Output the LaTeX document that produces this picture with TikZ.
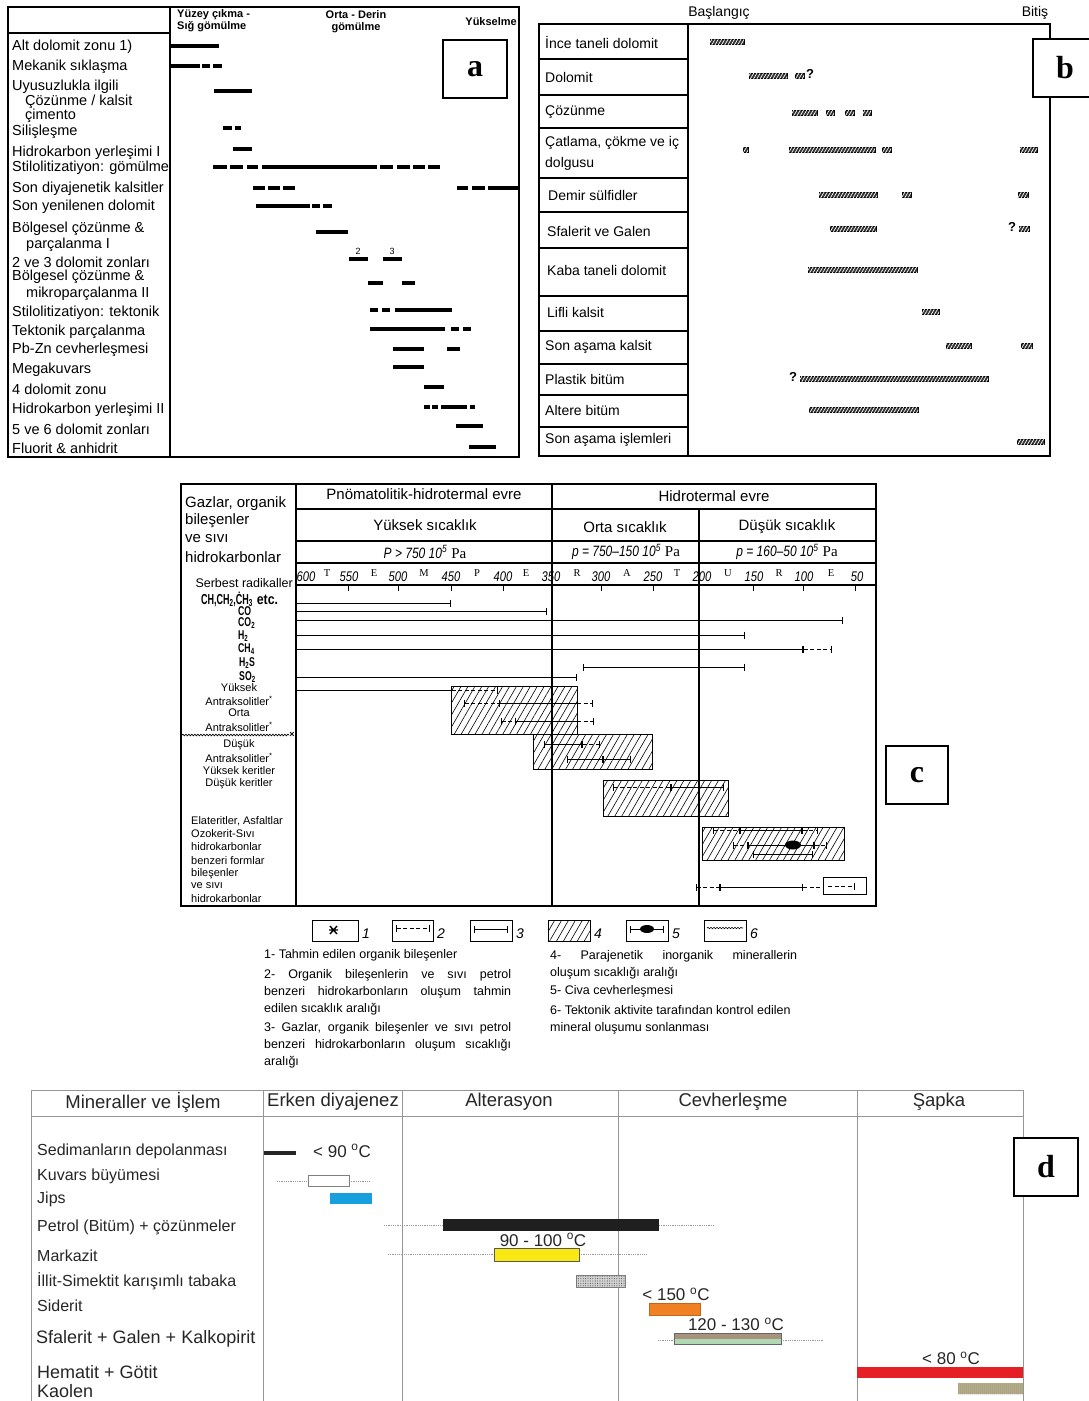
\documentclass[tikz,border=0pt]{standalone}
\usepackage{fontspec}
\setmainfont{Liberation Sans}
\newfontfamily\timesfont{Liberation Serif}
\usetikzlibrary{arrows.meta,patterns.meta,decorations.pathmorphing}

\definecolor{jipsblue}{RGB}{24,160,222}
\definecolor{markyellow}{RGB}{250,232,20}
\definecolor{siderorange}{RGB}{240,128,36}
\definecolor{sfaltop}{RGB}{168,148,126}
\definecolor{sfalbot}{RGB}{176,216,178}
\definecolor{hemred}{RGB}{230,30,38}
\definecolor{kaolkhaki}{RGB}{186,178,138}
\definecolor{framegray}{RGB}{150,150,150}

\newcommand{\jline}[1]{\makebox[247pt][s]{#1}}
\newcommand{\cond}[1]{\scalebox{0.6}[0.88]{#1}}
\newcommand{\narrow}[1]{\scalebox{0.8}[1]{#1}}

\tikzset{
  frame/.style={draw=black, line width=1.2pt},
  letterbox/.style={draw=black, line width=1.6pt, fill=white, inner sep=0pt,
    minimum width=62pt, minimum height=58pt,
    font=\timesfont\bfseries\fontsize{32}{32}\selectfont},
  ahead/.style={inner sep=0pt, font=\bfseries\fontsize{11}{11}\selectfont},
  alabel/.style={anchor=west, inner sep=0pt, font=\fontsize{14.5}{15}\selectfont},
  abar/.style={line width=3.6pt},
  blabel/.style={anchor=west, inner sep=0pt, font=\fontsize{14}{15}\selectfont},
  bbar/.style={draw=black, line width=0.5pt, fill=black!80,
    postaction={pattern={Lines[angle=60,distance=2.8pt,line width=0.7pt]}, pattern color=white}},
  bq/.style={inner sep=0pt, font=\bfseries\fontsize{13}{13}\selectfont},
  chead/.style={inner sep=0pt, font=\fontsize{15}{15}\selectfont},
  clab/.style={inner sep=0pt, font=\fontsize{11}{11}\selectfont},
  chem/.style={anchor=west, inner sep=0pt, font=\bfseries\fontsize{14.5}{14.5}\selectfont},
  tnum/.style={inner sep=0pt, font=\itshape\fontsize{14}{14}\selectfont},
  tlet/.style={inner sep=0pt, font=\timesfont\fontsize{10.5}{10.5}\selectfont},
  rng/.style={line width=1pt, {Bar[width=7pt,line width=1pt]}-{Bar[width=7pt,line width=1pt]}},
  rngd/.style={rng, dash pattern=on 4pt off 2.5pt},
  rngo/.style={line width=1pt, -{Bar[width=7pt,line width=1pt]}},
  hatch/.style={draw=black, line width=0.8pt, pattern={Lines[angle=60,distance=6pt,line width=0.6pt]}},
  legtext/.style={anchor=north west, inner sep=0pt, align=left, font=\fontsize{12.5}{17}\selectfont},
  legnum/.style={anchor=west, inner sep=0pt, font=\itshape\fontsize{14}{14}\selectfont},
  dframe/.style={draw=framegray, line width=0.9pt},
  dhead/.style={inner sep=0pt, font=\fontsize{18.5}{19}\selectfont, text=black!85},
  dlabel/.style={anchor=west, inner sep=0pt, font=\fontsize{16}{17}\selectfont, text=black!85},
  dlabelb/.style={dlabel, font=\fontsize{18}{19}\selectfont},
  dtemp/.style={inner sep=0pt, font=\fontsize{17}{17}\selectfont, text=black!85},
  dtrail/.style={draw=gray!80, line width=0.7pt, dash pattern=on 1pt off 0.8pt},
}

\begin{document}
\begin{tikzpicture}[x=1pt,y=-1pt]
\useasboundingbox (0,0) rectangle (1089,1401);
\fill[white] (0,0) rectangle (1089,1401);

%% ---------------- a ----------------
\draw[frame] (8,7) rectangle (519,457);
\draw[frame] (170,7) -- (170,457);
\draw[frame] (8,33) -- (170,33);
\node[ahead, anchor=west] (ayuzey) at (177,15) {Yüzey çıkma -};
\node[ahead, anchor=west] (asig) at (177,27) {Sığ gömülme};
\node[ahead] (aorta) at (356,15) {Orta - Derin};
\node[ahead] (agom) at (356,28) {gömülme};
\node[ahead, anchor=east] (ayuk) at (517,22) {Yükselme};

\foreach \x/\y/\t [count=\i] in {12/47/Alt dolomit zonu 1), 12/67/Mekanik sıklaşma,
    12/87/Uyusuzlukla ilgili, 25/102/{Çözünme / kalsit}, 25/116/çimento,
    12/132/Silişleşme, 12/153/Hidrokarbon yerleşimi I, 12/168/Stilolitizatiyon: gömülme,
    12/189/Son diyajenetik kalsitler, 12/207/Son yenilenen dolomit,
    12/229/Bölgesel çözünme \&, 26/245/parçalanma I, 12/262/2 ve 3 dolomit zonları,
    12/277/Bölgesel çözünme \&, 26/294/mikroparçalanma II,
    12/313/Stilolitizatiyon: tektonik, 12/332/Tektonik parçalanma,
    12/350/Pb-Zn cevherleşmesi, 12/370/Megakuvars, 12/389/4 dolomit zonu,
    12/410/Hidrokarbon yerleşimi II, 12/429/5 ve 6 dolomit zonları,
    12/448/Fluorit \& anhidrit}
  \node[alabel] (arow\i) at (\x,\y) {\t};

\foreach \a/\b/\y in {171/219/46, 171/200/66, 202/210/66, 213/222/66, 214/252/91,
    223/232/128, 235/241/128, 233/252/149,
    213/227/167, 230/243/167, 247/258/167, 262/377/167, 380/393/167, 397/410/167, 413/425/167, 428/440/167,
    253/265/188, 268/280/188, 283/295/188, 457/468/188, 472/485/188, 488/518/188,
    256/310/206, 312/320/206, 323/332/206, 316/348/232, 349/368/259, 383/402/259,
    368/383/283, 402/415/283, 370/378/310, 382/390/310, 395/452/310,
    370/445/329, 451/459/329, 463/471/329, 393/424/349, 447/460/349, 393/424/367,
    424/444/387, 424/430/407, 432/438/407, 441/467/407, 470/475/407,
    456/483/426, 469/496/447}
  \draw[abar] (\a,\y) -- (\b,\y);
\node[font=\fontsize{9}{9}\selectfont, inner sep=0pt] (azon2) at (358,251) {2};
\node[font=\fontsize{9}{9}\selectfont, inner sep=0pt] (azon3) at (392,251) {3};
\node[letterbox, minimum width=64pt] (aletter) at (475,69) {a};

%% ---------------- b ----------------
\node[blabel, anchor=center] (bbas) at (719,13) {Başlangıç};
\node[blabel, anchor=center] (bbit) at (1035,13) {Bitiş};
\draw[frame] (539,24) rectangle (1050,456);
\draw[frame] (688,24) -- (688,456);
\foreach \y in {59,95,128,178,212,248,296,331,364,395,427}
  \draw[frame] (539,\y) -- (688,\y);
\foreach \x/\y/\t [count=\i] in {545/42/İnce taneli dolomit, 545/77/Dolomit, 545/112/Çözünme,
    545/143/{Çatlama, çökme ve iç}, 545/164/dolgusu, 548/195/Demir sülfidler,
    547/231/Sfalerit ve Galen, 547/270/Kaba taneli dolomit, 547/312/Lifli kalsit,
    545/347/Son aşama kalsit, 545/379/Plastik bitüm, 545/410/Altere bitüm,
    545/440/Son aşama işlemleri}
  \node[blabel] (brow\i) at (\x,\y) {\t};
\foreach \a/\b/\y in {710/744/42, 749/787/76, 795/804/76,
    792/817/113, 826/834/113, 845/854/113, 863/871/113,
    743/748/150, 789/875/150, 882/891/150, 1020/1037/150,
    819/877/195, 902/911/195, 1018/1028/195, 830/876/229, 1019/1029/229,
    808/917/270, 922/939/312, 946/971/346, 1021/1032/346,
    800/988/379, 809/918/410, 1017/1044/442}
  \draw[bbar] (\a,\y-2.6) rectangle (\b,\y+2.6);
\node[bq] (bq1) at (810,74) {?};
\node[bq] (bq2) at (1012,227) {?};
\node[bq] (bq3) at (793,377) {?};
\node[letterbox, minimum width=64pt] (bletter) at (1065,68) {b};

%% ---------------- c ----------------
% hatched fields first
\draw[hatch] (451,686) rectangle (577,734);
\draw[hatch] (533,734) rectangle (652,769);
\draw[hatch] (603,780) rectangle (728,816);
\draw[hatch] (702,827) rectangle (844,860);

\draw[frame] (181,484) rectangle (876,906);
\draw[frame] (296,484) -- (296,906);
\draw[frame] (552,484) -- (552,906);
\draw[frame] (699,509) -- (699,906);
\foreach \y in {509,541,563,585}
  \draw[frame] (296,\y) -- (876,\y);
\foreach \x in {348,398,451,503,601,653,753,803,855}
  \draw[line width=1pt] (\x,585) -- (\x,591);

\node[chead] (cpno) at (424,494) {Pnömatolitik-hidrotermal evre};
\node[chead] (chid) at (714,496) {Hidrotermal evre};
\node[chead] (cyuk) at (425,525) {Yüksek sıcaklık};
\node[chead] (corta) at (625,527) {Orta sıcaklık};
\node[chead] (cdus) at (787,527) {Düşük sıcaklık};
\node[chead] (cp1) at (425,552) {\narrow{\itshape P > 750 10\textsuperscript{5}} {\timesfont Pa}};
\node[chead] (cp2) at (626,552) {\narrow{\itshape p = 750–150 10\textsuperscript{5}} {\timesfont Pa}};
\node[chead] (cp3) at (787,552) {\narrow{\itshape p = 160–50 10\textsuperscript{5}} {\timesfont Pa}};
\foreach \x/\t in {306/600,349/550,398/500,451/450,503/400,551/350,601/300,653/250,702/200,754/150,804/100,857/50}
  \node[tnum] (ct\t) at (\x,577) {\narrow{\t}};
\foreach \x/\t [count=\i] in {327/T,374/E,424/M,477/P,526/E,577/R,627/A,677/T,728/U,779/R,831/E}
  \node[tlet] (cl\i) at (\x,573) {\t};

\foreach \y/\t [count=\i] in {504/{Gazlar, organik}, 521/bileşenler, 539/ve sıvı, 557/hidrokarbonlar}
  \node[chead, anchor=west] (cgaz\i) at (185,\y) {\t};
\node[clab, anchor=east, font=\fontsize{12.5}{12.5}\selectfont] (cserb) at (293,583) {Serbest radikaller};
\node[chem] (cch) at (201,599) {\scalebox{0.62}[1]{CH,CH\textsubscript{2},ĊH\textsubscript{3}} \scalebox{0.85}[1]{etc.}};
\node[chem] (cco) at (238,611) {\cond{CO}};
\node[chem] (cco2) at (238,623) {\cond{CO\textsubscript{2}}};
\node[chem] (ch2) at (238,636) {\cond{H\textsubscript{2}}};
\node[chem] (cch4) at (238,649) {\cond{CH\textsubscript{4}}};
\node[chem] (ch2s) at (239,663) {\cond{H\textsubscript{2}S}};
\node[chem] (cso2) at (239,677) {\cond{SO\textsubscript{2}}};
\foreach \y/\t [count=\i] in {688/Yüksek, 701/Antraksolitler\textsuperscript{*}, 713/Orta,
    727/Antraksolitler\textsuperscript{*}, 745/Düşük, 758/Antraksolitler\textsuperscript{*},
    771/Yüksek keritler, 784/Düşük keritler}
  \node[clab] (cant\i) at (239,\y) {\t};
\foreach \y/\t [count=\i] in {821/{Elateritler, Asfaltlar}, 834/Ozokerit-Sıvı, 847/hidrokarbonlar,
    861/benzeri formlar, 874/bileşenler, 886/ve sıvı, 899/hidrokarbonlar}
  \node[clab, anchor=west] (cela\i) at (191,\y) {\t};
\draw[line width=0.7pt, decorate, decoration={snake, amplitude=0.8pt, segment length=3pt}] (182,735) -- (289,735);
\node[inner sep=0pt, font=\bfseries\fontsize{9}{9}\selectfont] (cx) at (292,735) {×};

% ranges
\draw[rngo] (296,603) -- (451,603);
\draw[rngo] (296,611) -- (547,611);
\draw[rngo] (296,620) -- (843,620);
\draw[rngo] (296,635) -- (745,635);
\draw[rngo] (296,649) -- (803,649);
\draw[rngd] (803,649) -- (832,649);
\draw[rng] (583,667) -- (745,667);
\draw[rngo] (296,677) -- (577,677);
\draw[line width=1pt] (296,690) -- (451,690);
\draw[rngd] (451,690) -- (498,690);
\draw[rngd] (464,703) -- (500,703);
\draw[line width=1pt] (500,703) -- (577,703);
\draw[rngo, dash pattern=on 4pt off 2.5pt] (577,703) -- (593,703);
\draw[rngd] (501,721) -- (516,721);
\draw[line width=1pt] (516,721) -- (577,721);
\draw[rngo, dash pattern=on 4pt off 2.5pt] (577,721) -- (594,721);
\draw[rng] (544,744) -- (582,744);
\draw[rngd] (582,744) -- (600,744);
\draw[rng] (567,759) -- (603,759);
\draw[rng] (603,759) -- (631,759);
\draw[rngd] (613,787) -- (671,787);
\draw[rng] (671,787) -- (724,787);
\draw[rngd] (713,830) -- (740,830);
\draw[rng] (740,830) -- (802,830);
\draw[rngd] (802,830) -- (818,830);
\draw[rngd] (733,845) -- (748,845);
\draw[rng] (748,845) -- (814,845);
\draw[rngd] (814,845) -- (827,845);
\fill (793,845) ellipse (8 and 4.5);
\draw[rng] (753,854) -- (813,854);
\draw[rngd] (696,887) -- (720,887);
\draw[rng] (720,887) -- (803,887);
\draw[line width=1pt, dash pattern=on 4pt off 2.5pt] (803,887) -- (823,887);
\draw[line width=1pt] (823,877) rectangle (866,894);
\draw[rngo, dash pattern=on 4pt off 2.5pt] (828,886) -- (855,886);
\node[letterbox] (cletter) at (917,775) {c};

% legend
\draw[line width=1pt] (312,920) rectangle (358,941);
\draw[line width=1.4pt] (329,930) -- (338,930) (330,926) -- (337,934) (330,934) -- (337,926);
\node[legnum] (cn1) at (362,934) {1};
\draw[line width=1pt] (392,920) rectangle (433,941);
\draw[rngd] (396,928) -- (430,928);
\node[legnum] (cn2) at (437,934) {2};
\draw[line width=1pt] (470,920) rectangle (512,941);
\draw[rng] (474,929) -- (508,929);
\node[legnum] (cn3) at (516,934) {3};
\draw[hatch] (548,920) rectangle (590,941);
\node[legnum] (cn4) at (594,934) {4};
\draw[line width=1pt] (626,920) rectangle (668,941);
\draw[rng] (630,929) -- (664,929);
\fill (647,929) ellipse (7 and 4);
\node[legnum] (cn5) at (672,934) {5};
\draw[line width=1pt] (704,920) rectangle (746,941);
\draw[line width=0.6pt, decorate, decoration={snake, amplitude=0.7pt, segment length=3pt}] (707,928) -- (743,928);
\node[legnum] (cn6) at (750,934) {6};

\node[legtext] (cleg1) at (264,949) {1- Tahmin edilen organik bileşenler};
\node[legtext] (cleg2) at (264,969) {\jline{2- Organik bileşenlerin ve sıvı petrol}\\
  \jline{benzeri hidrokarbonların oluşum tahmin}\\ edilen sıcaklık aralığı};
\node[legtext] (cleg3) at (264,1022) {\jline{3- Gazlar, organik bileşenler ve sıvı petrol}\\
  \jline{benzeri hidrokarbonların oluşum sıcaklığı}\\ aralığı};
\node[legtext] (cleg4) at (550,950) {\jline{4- Parajenetik inorganik minerallerin}\\ oluşum sıcaklığı aralığı};
\node[legtext] (cleg5) at (550,985) {5- Civa cevherleşmesi};
\node[legtext] (cleg6) at (550,1005) {6- Tektonik aktivite tarafından kontrol edilen\\ mineral oluşumu sonlanması};

%% ---------------- d ----------------
\draw[dframe] (31,1406) -- (31,1090) -- (1023,1090) -- (1023,1406);
\draw[dframe] (31,1116) -- (1023,1116);
\foreach \x in {263,402,618,857}
  \draw[dframe] (\x,1090) -- (\x,1406);
\node[dhead] (dmin) at (143,1102) {Mineraller ve İşlem};
\node[dhead] (derk) at (333,1102) {Erken diyajenez};
\node[dhead] (dalt) at (509,1102) {Alterasyon};
\node[dhead] (dcev) at (733,1102) {Cevherleşme};
\node[dhead] (dsap) at (939,1102) {Şapka};

\foreach \y/\t [count=\i] in {1151/Sedimanların depolanması, 1176/Kuvars büyümesi, 1199/Jips,
    1227/Petrol (Bitüm) + çözünmeler, 1256/Markazit, 1281/İllit-Simektit karışımlı tabaka, 1306/Siderit}
  \node[dlabel] (drow\i) at (37,\y) {\t};
\node[dlabelb] (dsfal) at (36,1339) {Sfalerit + Galen + Kalkopirit};
\node[dlabelb] (dhem) at (37,1372) {Hematit + Götit};
\node[dlabelb] (dkao) at (37,1391) {Kaolen};

\draw[line width=3.6pt, black!85] (264,1153) -- (296,1153);
\node[dtemp] (dt90) at (342,1151) {< 90 \textsuperscript{o}C};
\draw[dtrail] (277,1181) -- (308,1181) (349,1181) -- (369,1181);
\draw[draw=gray, line width=0.8pt, fill=white] (308,1175) rectangle (349,1186);
\fill[jipsblue] (330,1193) rectangle (372,1204);
\draw[dtrail] (384,1225) -- (443,1225) (659,1225) -- (714,1225);
\fill[black!88] (443,1219) rectangle (659,1231);
\node[dtemp] (dt100) at (543,1240) {90 - 100 \textsuperscript{o}C};
\draw[dtrail] (388,1254) -- (494,1254) (579,1254) -- (646,1254);
\draw[draw=gray!70!black, line width=0.6pt, fill=markyellow] (494,1248) rectangle (579,1261);
\draw[draw=gray, line width=0.6pt, fill=gray!35, postaction={pattern={Dots[distance=2.4pt,radius=0.55pt]}, pattern color=gray!70!black}] (576,1275) rectangle (625,1287);
\node[dtemp] (dt150) at (676,1294) {< 150 \textsuperscript{o}C};
\draw[draw=siderorange!80!black, line width=0.6pt, fill=siderorange] (649,1303) rectangle (700,1315);
\node[dtemp] (dt130) at (736,1324) {120 - 130 \textsuperscript{o}C};
\draw[dtrail] (658,1340) -- (674,1340) (781,1340) -- (823,1340);
\fill[sfaltop] (674,1333) rectangle (781,1338.5);
\fill[sfalbot] (674,1338.5) rectangle (781,1344);
\draw[gray!80!black, line width=0.6pt] (674,1333) rectangle (781,1344);
\node[dtemp] (dt80) at (951,1358) {< 80 \textsuperscript{o}C};
\fill[hemred] (857,1367) rectangle (1023,1378);
\fill[kaolkhaki, postaction={pattern={Dots[distance=2pt,radius=0.5pt]}, pattern color=black!55}] (958,1383) rectangle (1023,1394);
\node[letterbox, minimum width=64pt] (dletter) at (1046,1167) {d};

\end{tikzpicture}
\end{document}
